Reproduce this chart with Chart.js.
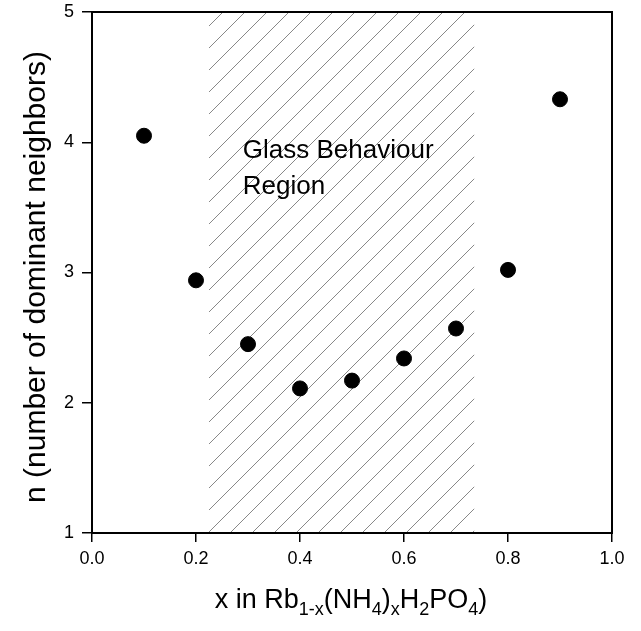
<!DOCTYPE html>
<html>
<head>
<meta charset="utf-8">
<script src="https://cdn.jsdelivr.net/npm/chart.js@4.4.0/dist/chart.umd.min.js"></script>
<style>
  html, body { margin: 0; padding: 0; background: #fff; }
  #wrap { width: 641px; height: 631px; position: relative; }
</style>
</head>
<body>
<div id="wrap"><canvas id="chart"></canvas></div>
<script>
// data
const xValues = [0.1, 0.2, 0.3, 0.4, 0.5, 0.6, 0.7, 0.8, 0.9];
const nValues = [4.05, 2.94, 2.45, 2.11, 2.17, 2.34, 2.57, 3.02, 4.33];
const glassRegion = [0.225, 0.735];
const regionLabel = ["Glass Behaviour", "Region"];
const labelPos = [0.29, 3.88];
const xTicks = [0, 0.2, 0.4, 0.6, 0.8, 1.0];
const yTicks = [1, 2, 3, 4, 5];

const FONT = "Liberation Sans, Arial, Helvetica, sans-serif";
Chart.defaults.font.family = FONT;
Chart.defaults.font.size = 18;
Chart.defaults.color = "#000";

// hatched band + frame + titles
const decor = {
  id: "decor",
  beforeDatasetsDraw(chart) {
    const { ctx, chartArea: a, scales } = chart;
    const x0 = scales.x.getPixelForValue(glassRegion[0]);
    const x1 = scales.x.getPixelForValue(glassRegion[1]);
    ctx.save();
    ctx.beginPath();
    ctx.rect(x0, a.top, x1 - x0, a.bottom - a.top);
    ctx.clip();
    ctx.strokeStyle = "#6a6a6a";
    ctx.lineWidth = 0.8;
    const h = a.bottom - a.top;
    for (let s = x0 - h - 30; s < x1 + 30; s += 22) {
      ctx.beginPath();
      ctx.moveTo(s, a.bottom);
      ctx.lineTo(s + h, a.top);
      ctx.stroke();
    }
    ctx.restore();

    // region text
    ctx.save();
    ctx.fillStyle = "#000";
    ctx.font = "26px " + FONT;
    ctx.textBaseline = "alphabetic";
    const tx = scales.x.getPixelForValue(labelPos[0]);
    const ty = scales.y.getPixelForValue(labelPos[1]);
    ctx.fillText(regionLabel[0], tx, ty);
    ctx.fillText(regionLabel[1], tx, ty + 36);
    ctx.restore();
  },
  afterDraw(chart) {
    const { ctx, chartArea: a } = chart;
    ctx.save();
    ctx.strokeStyle = "#000";
    ctx.lineWidth = 2;
    ctx.strokeRect(a.left, a.top, a.right - a.left, a.bottom - a.top);

    // y title
    ctx.fillStyle = "#000";
    ctx.font = "30px " + FONT;
    ctx.textAlign = "center";
    ctx.textBaseline = "alphabetic";
    ctx.save();
    ctx.translate(45, 277);
    ctx.rotate(-Math.PI / 2);
    ctx.fillText("n (number of dominant neighbors)", 0, 0);
    ctx.restore();

    // x title with subscripts
    const parts = [
      ["x in Rb", 0], ["1-x", 1], ["(NH", 0], ["4", 1], [")", 0], ["x", 1],
      ["H", 0], ["2", 1], ["PO", 0], ["4", 1], [")", 0]
    ];
    const big = "27px " + FONT, small = "18px " + FONT;
    let w = 0;
    parts.forEach(p => { ctx.font = p[1] ? small : big; w += ctx.measureText(p[0]).width; });
    let cx = 351 - w / 2;
    const base = 608;
    ctx.textAlign = "left";
    parts.forEach(p => {
      ctx.font = p[1] ? small : big;
      ctx.fillText(p[0], cx, p[1] ? base + 7 : base);
      cx += ctx.measureText(p[0]).width;
    });
    ctx.restore();
  }
};

new Chart(document.getElementById("chart"), {
  type: "scatter",
  data: {
    datasets: [{
      data: xValues.map((x, i) => ({ x: x, y: nValues[i] })),
      backgroundColor: "#000",
      borderColor: "#000",
      pointRadius: 7.5,
      pointHoverRadius: 7.5
    }]
  },
  options: {
    responsive: true,
    maintainAspectRatio: false,
    animation: false,
    layout: { padding: { top: 12, right: 29, left: 0, bottom: 0 } },
    plugins: { legend: { display: false }, tooltip: { enabled: false } },
    scales: {
      x: {
        type: "linear",
        min: 0, max: 1,
        afterBuildTicks: (s) => { s.ticks = xTicks.map(v => ({ value: v })); },
        afterFit: (s) => { s.height = 98; s.paddingLeft = 0; s.paddingRight = 0; },
        grid: { display: true, drawOnChartArea: false, drawTicks: true, tickLength: 9, color: "#000", lineWidth: 1.5 },
        border: { display: false },
        ticks: {
          color: "#000", padding: 6,
          font: { family: FONT, size: 18 },
          callback: (v) => Number(v).toFixed(1)
        }
      },
      y: {
        type: "linear",
        min: 1, max: 5,
        afterBuildTicks: (s) => { s.ticks = yTicks.map(v => ({ value: v })); },
        afterFit: (s) => { s.width = 92; s.paddingTop = 0; s.paddingBottom = 0; },
        grid: { display: true, drawOnChartArea: false, drawTicks: true, tickLength: 10, color: "#000", lineWidth: 1.5 },
        border: { display: false },
        ticks: {
          color: "#000", padding: 8,
          font: { family: FONT, size: 18 },
          callback: (v) => String(v)
        }
      }
    }
  },
  plugins: [decor]
});
</script>
</body>
</html>
